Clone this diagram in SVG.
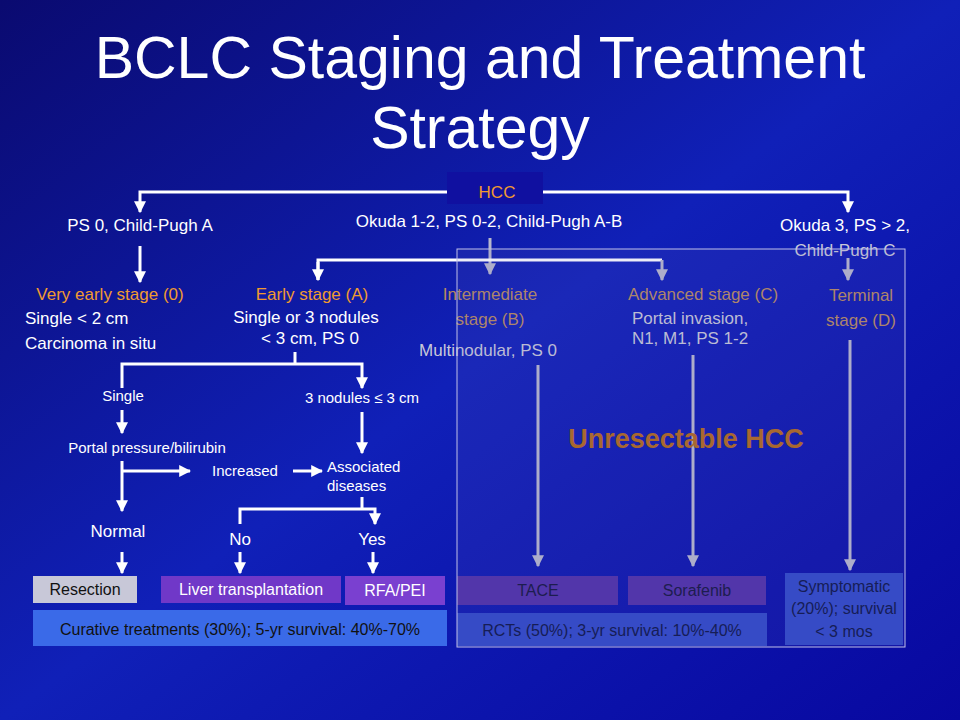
<svg xmlns="http://www.w3.org/2000/svg" width="960" height="720" viewBox="0 0 960 720">
<defs>
<linearGradient id="bg" x1="0" y1="0" x2="1" y2="1">
<stop offset="0" stop-color="#0a0a70"/><stop offset="0.5" stop-color="#1020b8"/><stop offset="1" stop-color="#0808a0"/>
</linearGradient>
<marker id="a" viewBox="0 0 10 10" refX="9" refY="5" markerWidth="4" markerHeight="4" orient="auto"><path d="M0,0L10,5L0,10z" fill="#fff"/></marker>
<marker id="g" viewBox="0 0 10 10" refX="9" refY="5" markerWidth="4" markerHeight="4" orient="auto"><path d="M0,0L10,5L0,10z" fill="#b8b8cc"/></marker>
<style>
text{font-family:"Liberation Sans",Arial,sans-serif;}
.w{fill:#fff;font-size:17px}
.s{fill:#fff;font-size:15px}
.o{fill:#f09a30;font-size:17px}
.od{fill:#b88a60;font-size:17px}
.gd{fill:#c8c8d8;font-size:17px}
.l{stroke:#fff;stroke-width:3;fill:none}
.la{stroke:#fff;stroke-width:3;fill:none;marker-end:url(#a)}
.ga{stroke:#b8b8cc;stroke-width:3;fill:none;marker-end:url(#g)}
.bt{font-size:16px;text-anchor:middle}
</style>
</defs>
<rect width="960" height="720" fill="url(#bg)"/>
<text x="480" y="78" text-anchor="middle" fill="#fff" font-size="59">BCLC Staging and Treatment</text>
<text x="480" y="148" text-anchor="middle" fill="#fff" font-size="59">Strategy</text>

<g id="connectors">
<path class="la" d="M447,192H140V212"/>
<path class="la" d="M543,192H848V212"/>
<path class="la" d="M140,246V282"/>
<path class="ga" d="M490,238V274"/>
<path class="l" d="M318,280V260H662"/>
<path class="la" d="M318,262V280"/>
<path class="ga" d="M662,260V280"/>
<path class="ga" d="M848,258V280"/>
<path class="l" d="M295,352V363"/>
<path class="la" d="M122,388V364H362V388"/>
<path class="la" d="M122,410V433"/>
<path class="la" d="M122,461V511"/>
<path class="la" d="M122,471H190"/>
<path class="la" d="M293,471H322"/>
<path class="la" d="M362,412V453"/>
<path class="l" d="M362,497V509"/>
<path class="la" d="M240,524V509H375V524"/>
<path class="la" d="M122,552V573"/>
<path class="la" d="M240,552V573"/>
<path class="la" d="M373,552V573"/>
<path class="ga" d="M538,365V566"/>
<path class="ga" d="M693,355V566"/>
<path class="ga" d="M850,340V570"/>
</g>

<g id="hcc"><rect x="447" y="172" width="96" height="32" fill="#1010a0"/><text x="497" y="198" text-anchor="middle" class="o" font-size="18">HCC</text></g>
<g id="ps0"><text x="140" y="231" text-anchor="middle" class="w">PS 0, Child-Pugh A</text></g>
<g id="okuda12"><text x="489" y="227" text-anchor="middle" class="w">Okuda 1-2, PS 0-2, Child-Pugh A-B</text></g>
<g id="okuda3"><text x="845" y="231" text-anchor="middle" class="w">Okuda 3, PS &gt; 2,</text><text x="845" y="256" text-anchor="middle" class="gd">Child-Pugh C</text></g>

<g id="veryearly"><text x="110" y="300" text-anchor="middle" class="o">Very early stage (0)</text>
<text x="25" y="324" class="w">Single &lt; 2 cm</text><text x="25" y="349" class="w">Carcinoma in situ</text></g>
<g id="early"><text x="312" y="300" text-anchor="middle" class="o">Early stage (A)</text>
<text x="306" y="323" text-anchor="middle" class="w">Single or 3 nodules</text><text x="310" y="344" text-anchor="middle" class="w">&lt; 3 cm, PS 0</text></g>
<g id="intermediate"><text x="490" y="300" text-anchor="middle" class="od">Intermediate</text><text x="490" y="325" text-anchor="middle" class="od">stage (B)</text>
<text x="488" y="356" text-anchor="middle" class="gd">Multinodular, PS 0</text></g>
<g id="advanced"><text x="703" y="300" text-anchor="middle" class="od">Advanced stage (C)</text>
<text x="690" y="324" text-anchor="middle" class="gd">Portal invasion,</text><text x="690" y="344" text-anchor="middle" class="gd">N1, M1, PS 1-2</text></g>
<g id="terminal"><text x="861" y="301" text-anchor="middle" class="od">Terminal</text><text x="861" y="326" text-anchor="middle" class="od">stage (D)</text></g>

<g id="single"><text x="123" y="401" text-anchor="middle" class="s">Single</text></g>
<g id="nodules"><text x="362" y="403" text-anchor="middle" class="s">3 nodules ≤ 3 cm</text></g>
<g id="portal"><text x="147" y="453" text-anchor="middle" class="s">Portal pressure/bilirubin</text></g>
<g id="increased"><text x="245" y="476" text-anchor="middle" class="s">Increased</text></g>
<g id="assoc"><text x="327" y="472" class="s">Associated</text><text x="327" y="491" class="s">diseases</text></g>
<g id="normal"><text x="118" y="537" text-anchor="middle" class="w">Normal</text></g>
<g id="no"><text x="240" y="545" text-anchor="middle" class="w">No</text></g>
<g id="yes"><text x="372" y="545" text-anchor="middle" class="w">Yes</text></g>

<g id="resection"><rect x="33" y="576" width="104" height="27" fill="#c8c8d8"/><text x="85" y="595" class="bt" fill="#111">Resection</text></g>
<g id="lt"><rect x="161" y="576" width="180" height="27" fill="#7038c8"/><text x="251" y="595" class="bt" fill="#fff">Liver transplantation</text></g>
<g id="rfa"><rect x="345" y="576" width="100" height="29" fill="#7a40d0"/><text x="395" y="596" class="bt" fill="#fff">RFA/PEI</text></g>
<g id="curative"><rect x="33" y="610" width="414" height="36" fill="#3a6ae8"/><text x="240" y="635" class="bt" fill="#111">Curative treatments (30%); 5-yr survival: 40%-70%</text></g>
<g id="tace"><rect x="457" y="576" width="161" height="29" fill="#5030a8"/><text x="538" y="596" class="bt" fill="#141440">TACE</text></g>
<g id="sorafenib"><rect x="628" y="576" width="138" height="29" fill="#5030a8"/><text x="697" y="596" class="bt" fill="#141440">Sorafenib</text></g>
<g id="rcts"><rect x="457" y="613" width="310" height="33" fill="#3048c8"/><text x="612" y="636" class="bt" fill="#0c1448">RCTs (50%); 3-yr survival: 10%-40%</text></g>
<g id="symptomatic"><rect x="785" y="573" width="118" height="72" fill="#3048c8"/>
<text x="844" y="592" class="bt" fill="#0c1448">Symptomatic</text><text x="844" y="614" class="bt" fill="#0c1448">(20%); survival</text><text x="844" y="637" class="bt" fill="#0c1448">&lt; 3 mos</text></g>

<g id="unresectable"><rect x="457" y="249" width="448" height="398" fill="#6060c0" fill-opacity="0.12" stroke="#c0c0e8" stroke-width="1"/>
<text x="686" y="448" text-anchor="middle" fill="#a86830" font-size="27" font-weight="bold">Unresectable HCC</text></g>
</svg>
